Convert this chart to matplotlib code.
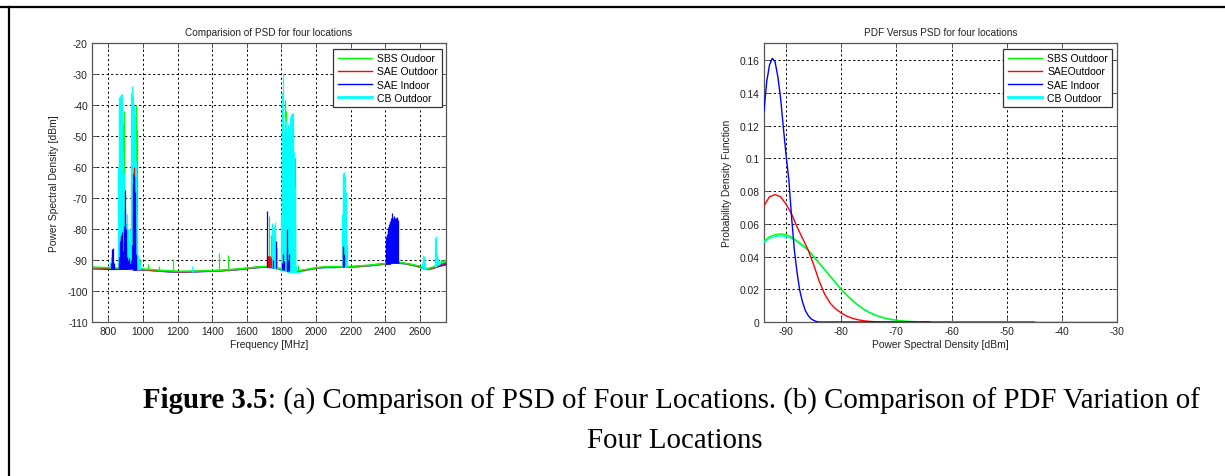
import numpy as np
import matplotlib
matplotlib.use("Agg")
import matplotlib.pyplot as plt
from matplotlib.lines import Line2D
from matplotlib.ticker import FuncFormatter

plt.rcParams['font.family'] = ['Liberation Sans', 'DejaVu Sans']
plt.rcParams['axes.unicode_minus'] = False

# ---------------- data: (a) PSD spectrum ----------------
floor_f = [706, 760, 800, 850, 900, 950, 1000, 1050, 1100, 1150, 1200, 1250, 1300, 1350, 1400,
           1450, 1500, 1550, 1600, 1650, 1700, 1750, 1800, 1850, 1900, 1950, 2000, 2050, 2100,
           2150, 2200, 2250, 2300, 2350, 2400, 2450, 2500, 2550, 2600, 2625, 2650, 2675, 2700,
           2725, 2750]
floor_sbs = [-92.3, -92.4, -92.5, -92.6, -92.6, -92.8, -92.9, -93.1, -93.3, -93.5, -93.6, -93.6,
             -93.6, -93.5, -93.4, -93.3, -93.1, -92.9, -92.6, -92.3, -92.1, -92.2, -92.8, -93.3,
             -93.4, -93.0, -92.5, -92.2, -92.2, -92.1, -92.1, -91.9, -91.7, -91.4, -91.1, -90.8,
             -90.9, -91.4, -92.0, -92.5, -92.7, -92.3, -91.5, -90.8, -90.2]
floor_sae_out = [-92.5, -92.6, -92.7, -92.8, -92.8, -93.0, -93.1, -93.3, -93.5, -93.7, -93.8, -93.8,
                 -93.7, -93.6, -93.5, -93.4, -93.2, -93.0, -92.7, -92.4, -92.2, -92.3, -93.0, -93.5,
                 -93.6, -93.1, -92.6, -92.3, -92.3, -92.2, -92.2, -92.0, -91.8, -91.5, -91.2, -90.9,
                 -91.0, -91.5, -92.2, -92.7, -92.9, -92.6, -92.0, -91.4, -91.0]
floor_sae_in = [-92.8, -92.9, -93.0, -93.0, -92.9, -93.1, -93.2, -93.4, -93.6, -93.8, -93.9, -93.9,
                -93.8, -93.7, -93.6, -93.5, -93.3, -93.1, -92.8, -92.5, -92.3, -92.5, -93.1, -93.6,
                -93.7, -93.2, -92.7, -92.4, -92.4, -92.3, -92.3, -92.1, -91.9, -91.6, -91.3, -91.0,
                -91.1, -91.6, -92.3, -92.9, -93.0, -92.7, -92.2, -91.8, -91.5]
floor_cb = [-92.6, -92.7, -92.7, -92.6, -92.6, -92.9, -93.1, -93.3, -93.5, -93.7, -93.8, -93.8,
            -93.7, -93.6, -93.5, -93.4, -93.2, -93.0, -92.7, -92.4, -92.2, -92.4, -93.2, -94.0,
            -94.0, -93.2, -92.7, -92.4, -92.4, -92.3, -92.3, -92.1, -91.9, -91.6, -91.3, -91.0,
            -91.1, -91.6, -92.3, -92.9, -93.1, -92.6, -91.8, -91.2, -90.7]

cb_peak_f = [812, 816, 820, 824, 828,
             858, 861, 864, 867, 870, 873, 876, 879, 882, 885, 888, 891, 894, 897, 900,
             903, 906, 909, 912, 915, 918, 921, 924, 927,
             930, 933, 936, 939, 942, 945, 948, 951, 954, 957, 960, 963, 966, 969, 972, 975, 978, 981,
             1285,
             1744, 1748, 1752, 1756, 1760, 1764, 1768, 1772,
             1798, 1801, 1804, 1807, 1810, 1813, 1816, 1819, 1822, 1825, 1828, 1831, 1834, 1837, 1840,
             1843, 1846, 1849, 1852, 1855, 1858, 1861, 1864, 1867, 1870, 1873, 1876, 1879, 1882,
             2152, 2155, 2158, 2161, 2164, 2167, 2170, 2173, 2176,
             2612, 2616, 2620, 2624, 2628, 2632,
             2686, 2689, 2692, 2695, 2698, 2702, 2708, 2715]
cb_peak_db = [-90.5, -89.0, -89.5, -90.0, -91.0,
              -60.0, -40.0, -37.5, -38.0, -37.0, -36.5, -38.0, -36.3, -45.0, -55.0, -62.0, -70.0, -82.0, -86.0, -88.0,
              -78.0, -75.0, -82.0, -86.0, -80.0, -84.0, -88.0, -85.0, -80.0,
              -60.0, -36.0, -33.8, -35.0, -37.0, -41.0, -45.0, -40.0, -43.0, -50.0, -58.0, -75.0, -86.0, -89.0, -88.5, -89.5, -90.0, -91.0,
              -92.0,
              -80.0, -78.0, -82.0, -79.0, -81.0, -77.8, -84.0, -86.0,
              -75.0, -55.0, -36.0, -30.0, -38.0, -48.0, -52.0, -47.0, -44.0, -55.0, -45.0, -50.0, -58.0, -46.0, -50.0,
              -60.0, -47.0, -44.0, -55.0, -43.0, -50.0, -42.5, -48.0, -42.6, -58.0, -55.0, -66.0, -80.0, -92.0,
              -75.0, -63.0, -62.0, -61.7, -63.0, -64.0, -68.0, -72.0, -85.0,
              -91.0, -89.0, -88.5, -88.8, -90.5, -92.2,
              -90.0, -83.0, -82.4, -85.0, -88.0, -89.5, -90.3, -90.5]

sbs_peak_f = [860, 862, 866, 885, 888, 891, 938, 941, 944, 958, 961, 964, 975, 985,
              1031, 1090, 1176, 1439, 1493, 1729, 1740, 1760,
              1818, 1821, 1824, 1827, 1830, 1833, 1836, 1876, 1880, 1895, 2720, 2740]
sbs_peak_db = [-73.0, -59.0, -62.0, -46.0, -42.0, -48.0, -38.5, -41.0, -44.0, -45.0, -40.0, -48.0, -90.0, -90.0,
               -91.3, -92.0, -89.7, -87.7, -88.3, -75.7, -82.0, -90.2,
               -40.0, -38.5, -42.0, -47.0, -52.0, -55.0, -50.0, -57.0, -80.0, -91.5, -90.0, -89.7]

sae_out_peak_f = [876, 945, 948, 951, 954, 1718, 1720, 1722, 1724, 1726, 1728, 1730, 1732, 1734, 1736, 1738,
                  1830, 2155, 2478]
sae_out_peak_db = [-83.0, -62.0, -60.0, -64.0, -75.0, -89.0, -88.8, -89.2, -88.6, -89.0, -88.7, -89.1, -88.9,
                   -89.0, -88.8, -89.3, -91.0, -86.0, -90.5]

sae_in_peak_f = [815, 820, 824, 828, 832, 860, 864, 867, 870, 873, 876, 879, 882, 885, 888, 891, 894, 897,
                 900, 903, 906, 912, 918, 925, 932, 937, 940, 943, 946, 949, 952, 955, 958, 962,
                 1718, 1750, 1769, 1803, 1806, 1815, 1830, 1833, 1836, 1842, 2156, 2159,
                 2402, 2405, 2408, 2411, 2414, 2417, 2420, 2423, 2426, 2429, 2432, 2435, 2438, 2441,
                 2444, 2447, 2450, 2453, 2456, 2459, 2462, 2465, 2468, 2471, 2474]
sae_in_peak_db = [-91.0, -88.0, -86.5, -86.0, -91.0, -91.0, -89.0, -86.0, -84.0, -82.0, -83.0, -81.0, -84.0,
                  -87.0, -80.0, -79.0, -74.0, -67.5, -80.0, -86.0, -89.0, -90.0, -89.5, -91.0, -90.0,
                  -85.0, -75.0, -65.0, -63.0, -66.0, -68.0, -80.0, -88.0, -91.0,
                  -74.1, -90.0, -83.8, -91.0, -88.0, -90.2, -80.0, -86.0, -90.0, -88.0, -85.5, -88.0,
                  -84.0, -82.5, -81.5, -82.0, -80.5, -79.5, -80.0, -78.5, -78.0, -77.5, -78.5, -76.5,
                  -74.8, -77.5, -76.5, -75.7, -77.5, -77.0, -76.3, -77.0, -76.3, -76.0, -76.3, -77.0, -90.0]

freq_ticks = [800, 1000, 1200, 1400, 1600, 1800, 2000, 2200, 2400, 2600]
psd_ticks = [-110, -100, -90, -80, -70, -60, -50, -40, -30, -20]

# ---------------- data: (b) PDF vs PSD ----------------
pdf_x_sbs = [-94, -93, -92, -91, -90, -89, -88, -87, -86, -85, -84, -83, -82, -81, -80, -79, -78, -77,
             -76, -75, -74, -73, -72, -71, -70, -69, -68, -66, -64, -60]
pdf_sbs = [0.0495, 0.052, 0.0533, 0.0538, 0.0533, 0.0518, 0.0495, 0.047, 0.044, 0.040, 0.036, 0.032,
           0.028, 0.024, 0.020, 0.0165, 0.0133, 0.0105, 0.008, 0.006, 0.0045, 0.0033, 0.0023, 0.0016,
           0.0011, 0.0007, 0.0004, 0.0001, 0.0, 0.0]
pdf_x_sae_out = [-94, -93, -92, -91, -90, -89, -88, -87, -86, -85, -84, -83, -82, -81, -80, -79, -78,
                 -77, -76, -75, -74, -72, -45]
pdf_sae_out = [0.071, 0.0765, 0.0778, 0.0765, 0.072, 0.066, 0.058, 0.051, 0.044, 0.035, 0.025, 0.017,
               0.0115, 0.008, 0.0055, 0.0036, 0.0023, 0.0014, 0.0008, 0.0004, 0.0002, 0.0, 0.0]
pdf_x_sae_in = [-94, -93.5, -93, -92.5, -92, -91.5, -91, -90.5, -90, -89.5, -89, -88.5, -88, -87.5, -87,
                -86.5, -86, -85.5, -85, -84.5, -84, -64]
pdf_sae_in = [0.129, 0.147, 0.157, 0.161, 0.159, 0.150, 0.137, 0.119, 0.102, 0.087, 0.064, 0.044, 0.030,
              0.019, 0.012, 0.007, 0.004, 0.002, 0.001, 0.0003, 0.0, 0.0]
pdf_x_cb = [-94, -93, -92, -91, -90, -89, -88, -87, -86, -85, -84, -83, -82, -81, -80, -79, -78, -77,
            -76, -75, -74, -73, -72, -71, -70, -69, -68, -66, -64, -30]
pdf_cb = [0.0485, 0.051, 0.0523, 0.0526, 0.0522, 0.051, 0.049, 0.0465, 0.0437, 0.0398, 0.0358, 0.0318,
          0.0278, 0.0238, 0.0198, 0.0163, 0.0131, 0.0103, 0.0079, 0.0059, 0.0044, 0.0032, 0.0022, 0.0015,
          0.001, 0.0006, 0.0003, 0.0001, 0.0, 0.0]

pdf_xticks = [-90, -80, -70, -60, -50, -40, -30]
pdf_yticks = [0, 0.02, 0.04, 0.06, 0.08, 0.1, 0.12, 0.14, 0.16]

labels_a = ['SBS Oudoor', 'SAE Outdoor', 'SAE Indoor', 'CB Outdoor']
labels_b = ['SBS Outdoor', 'SAEOutdoor', 'SAE Indoor', 'CB Outdoor']

C_SBS, C_OUT, C_IN, C_CB = '#00ff00', '#ff0000', '#0000ff', '#00ffff'

# ---------------- figure ----------------
fig = plt.figure(figsize=(12.25, 4.77), dpi=100)
fig.patch.set_facecolor('white')

ax1 = fig.add_axes([92 / 1225, 1 - 323 / 477, 354 / 1225, 279 / 477])
ax2 = fig.add_axes([764 / 1225, 1 - 323 / 477, 353 / 1225, 279 / 477])


def style_axes(ax):
    ax.grid(True, color='black', linestyle=(0, (2.2, 2.6)), linewidth=0.7)
    ax.set_axisbelow(True)
    for s in ax.spines.values():
        s.set_color('#555555')
        s.set_linewidth(0.9)
    ax.tick_params(direction='in', length=3.5, width=0.7, colors='#555555', labelcolor='#222222',
                   labelsize=7.4, top=True, right=True, pad=3)


# noise floors (blue lowest, green on top), then spikes
floors = [(floor_sae_in, C_IN, 2.0), (floor_cb, C_CB, 2.1), (floor_sae_out, C_OUT, 2.2),
          (floor_sbs, C_SBS, 2.3)]
for floor, col, z in floors:
    ax1.plot(floor_f, floor, color=col, lw=1.1, zorder=z)

spikes = [
    (floor_sbs, sbs_peak_f, sbs_peak_db, C_SBS, 3),
    (floor_cb, cb_peak_f, cb_peak_db, C_CB, 4),
    (floor_sae_out, sae_out_peak_f, sae_out_peak_db, C_OUT, 5),
    (floor_sae_in, sae_in_peak_f, sae_in_peak_db, C_IN, 6),
]
for floor, pf, pdb, col, z in spikes:
    base = np.interp(pf, floor_f, floor)
    ax1.vlines(pf, base, pdb, colors=col, lw=0.9, zorder=z)

ax1.set_xlim(706, 2750)
ax1.set_ylim(-110, -20)
ax1.set_xticks(freq_ticks)
ax1.set_yticks(psd_ticks)
style_axes(ax1)
ax1.set_title('Comparision of PSD for four locations', fontsize=7.2, pad=6, color='#222222')
ax1.set_xlabel('Frequency [MHz]', fontsize=7.4, labelpad=2, color='#222222')
ax1.set_ylabel('Power Spectral Density [dBm]', fontsize=7.4, labelpad=6, color='#222222')

handles = [Line2D([], [], color=C_SBS, lw=1), Line2D([], [], color=C_OUT, lw=1),
           Line2D([], [], color=C_IN, lw=1), Line2D([], [], color=C_CB, lw=2)]
leg_kw = dict(loc='upper right', fontsize=7.5, handlelength=3.3, handletextpad=0.5,
              labelspacing=0.3, borderpad=0.4, fancybox=False, framealpha=1, edgecolor='#333333',
              borderaxespad=0)
lg1 = ax1.legend(handles, labels_a, bbox_to_anchor=(0.989, 0.978), **leg_kw)
lg1.get_frame().set_linewidth(0.9)

# (b)
ax2.plot(pdf_x_cb, pdf_cb, color=C_CB, lw=1.0, zorder=3)
ax2.plot(pdf_x_sbs, pdf_sbs, color=C_SBS, lw=1.0, zorder=4)
ax2.plot(pdf_x_sae_out, pdf_sae_out, color=C_OUT, lw=1.0, zorder=5)
ax2.plot(pdf_x_sae_in, pdf_sae_in, color=C_IN, lw=1.0, zorder=6)
ax2.set_xlim(-94, -30)
ax2.set_ylim(0, 0.1704)
ax2.set_xticks(pdf_xticks)
ax2.set_yticks(pdf_yticks)
ax2.yaxis.set_major_formatter(FuncFormatter(lambda v, p: '%g' % v))
style_axes(ax2)
ax2.set_title('PDF Versus PSD for four locations', fontsize=7.2, pad=6, color='#222222')
ax2.set_xlabel('Power Spectral Density [dBm]', fontsize=7.4, labelpad=2, color='#222222')
ax2.set_ylabel('Probability Density Function', fontsize=7.4, labelpad=6, color='#222222')
handles_b = [Line2D([], [], color=C_SBS, lw=1), Line2D([], [], color=C_OUT, lw=1),
             Line2D([], [], color=C_IN, lw=1), Line2D([], [], color=C_CB, lw=2)]
lg2 = ax2.legend(handles_b, labels_b, bbox_to_anchor=(0.986, 0.978), **leg_kw)
lg2.get_frame().set_linewidth(0.9)

# page border lines
fig.add_artist(Line2D([0, 1], [1 - 7.5 / 477, 1 - 7.5 / 477], transform=fig.transFigure,
                      color='black', lw=1.6))
fig.add_artist(Line2D([8.5 / 1225, 8.5 / 1225], [0, 1 - 7.5 / 477], transform=fig.transFigure,
                      color='black', lw=1.6))

# caption
serif = ['Liberation Serif', 'DejaVu Serif']
cap_fs = 20.8
cap_y1 = 1 - 401 / 477
cap_y2 = 1 - 441 / 477
t1 = fig.text(143 / 1225, cap_y1, 'Figure 3.5', fontsize=cap_fs, fontweight='bold', family=serif,
              ha='left', va='center')
fig.canvas.draw()
bb = t1.get_window_extent()
fig.text(bb.x1 / 1225, cap_y1,
         ': (a) Comparison of PSD of Four Locations. (b) Comparison of PDF Variation of',
         fontsize=cap_fs, family=serif, ha='left', va='center')
fig.text(675 / 1225, cap_y2, 'Four Locations', fontsize=cap_fs, family=serif, ha='center', va='center')

fig.savefig('out.png', dpi=100)
